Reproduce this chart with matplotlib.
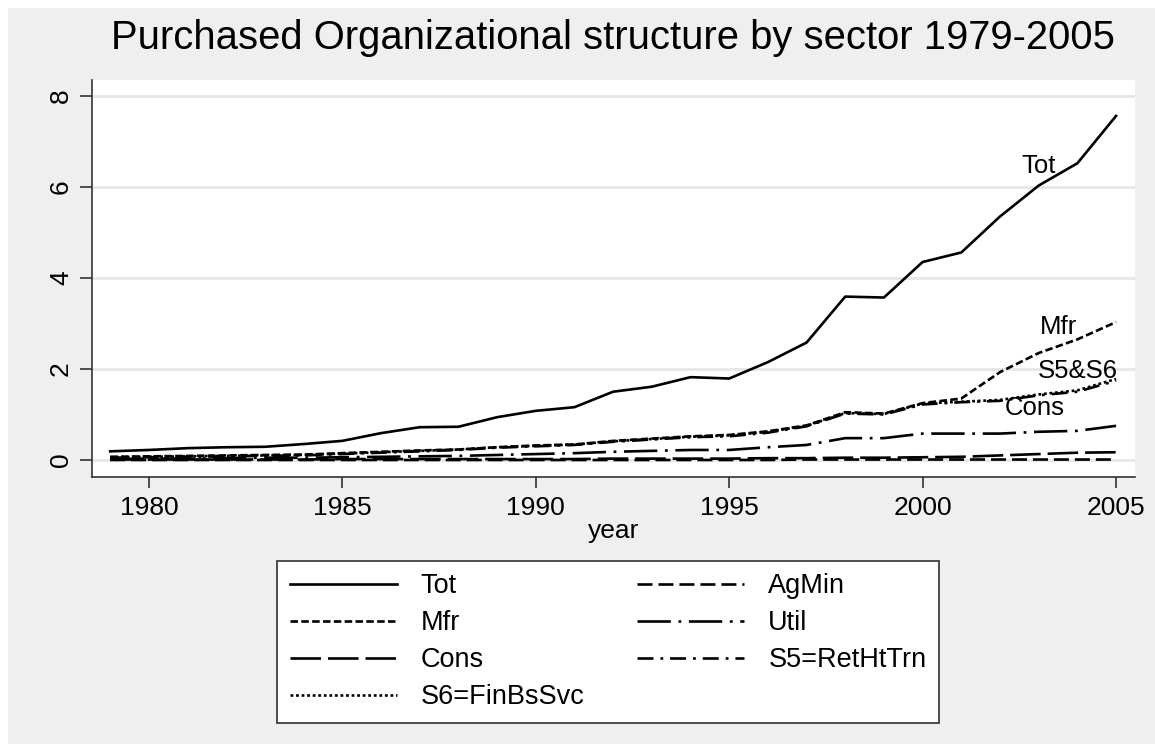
import matplotlib
matplotlib.use("Agg")
import matplotlib.pyplot as plt
from matplotlib.patches import Rectangle

plt.rcParams['font.family'] = ['Liberation Sans', 'DejaVu Sans']
plt.rcParams['lines.scale_dashes'] = False

# Data
years = list(range(1979, 2006))
tot = [0.19, 0.22, 0.26, 0.28, 0.29, 0.35, 0.42, 0.59, 0.72, 0.73, 0.94, 1.08, 1.16,
       1.50, 1.61, 1.82, 1.79, 2.15, 2.58, 3.59, 3.57, 4.35, 4.56, 5.35, 6.03, 6.52, 7.56]
mfr = [0.07, 0.08, 0.09, 0.10, 0.11, 0.12, 0.15, 0.18, 0.21, 0.23, 0.28, 0.32, 0.34,
       0.42, 0.47, 0.52, 0.55, 0.63, 0.76, 1.05, 1.02, 1.25, 1.35, 1.93, 2.35, 2.65, 3.03]
s5 = [0.05, 0.06, 0.07, 0.08, 0.09, 0.10, 0.13, 0.16, 0.19, 0.22, 0.27, 0.30, 0.33,
      0.40, 0.45, 0.50, 0.52, 0.60, 0.74, 1.02, 1.00, 1.22, 1.27, 1.30, 1.42, 1.50, 1.74]
s6 = [0.06, 0.07, 0.08, 0.09, 0.10, 0.11, 0.14, 0.17, 0.20, 0.23, 0.28, 0.31, 0.34,
      0.41, 0.46, 0.51, 0.54, 0.62, 0.75, 1.03, 1.01, 1.24, 1.28, 1.32, 1.44, 1.53, 1.78]
util = [0.02, 0.03, 0.03, 0.04, 0.05, 0.05, 0.06, 0.07, 0.08, 0.09, 0.11, 0.13, 0.15,
        0.18, 0.20, 0.22, 0.22, 0.28, 0.33, 0.48, 0.48, 0.58, 0.58, 0.58, 0.62, 0.64, 0.75]
cons = [0.01, 0.01, 0.01, 0.01, 0.01, 0.01, 0.02, 0.02, 0.02, 0.02, 0.02, 0.02, 0.02,
        0.03, 0.03, 0.03, 0.03, 0.04, 0.04, 0.05, 0.05, 0.06, 0.07, 0.10, 0.13, 0.16, 0.17]
agmin = [0.00, 0.00, 0.00, 0.00, 0.00, 0.00, 0.00, 0.00, 0.00, 0.00, 0.00, 0.00, 0.00,
         0.00, 0.00, 0.00, 0.00, 0.00, 0.01, 0.01, 0.01, 0.01, 0.01, 0.01, 0.01, 0.01, 0.01]

# end-of-line labels (year, value)
end_labels = [("Tot", 2003.0, 6.46), ("Mfr", 2003.5, 2.92),
              ("S5&S6", 2004.0, 1.96), ("Cons", 2002.9, 1.14)]

W, H = 1155, 744
fig = plt.figure(figsize=(W / 100, H / 100), dpi=100, facecolor='white')
fig.patches.append(Rectangle((8 / W, 0), 1, 1 - 8 / H, transform=fig.transFigure,
                             facecolor='#efefef', edgecolor='none', zorder=-10))

ax = fig.add_axes([92 / W, 1 - 477 / H, (1135 - 92) / W, (477 - 80) / H])
ax.set_facecolor('white')

lw = 1.9
styles = {
    'Tot': dict(ls='-'),
    'AgMin': dict(ls=(0, (10.8, 4.3))),
    'Mfr': dict(ls=(0, (5.4, 2.4))),
    'Util': dict(ls=(0, (24, 5.5, 2, 5.5))),
    'Cons': dict(ls=(0, (22, 5))),
    'S5=RetHtTrn': dict(ls=(0, (11.5, 5, 2, 5))),
    'S6=FinBsSvc': dict(ls=(0, (2, 2))),
}
series = {'Tot': tot, 'AgMin': agmin, 'Mfr': mfr, 'Util': util, 'Cons': cons,
          'S5=RetHtTrn': s5, 'S6=FinBsSvc': s6}

handles = {}
for name, vals in series.items():
    h, = ax.plot(years, vals, color='black', lw=lw, **styles[name])
    handles[name] = h

for txt, x, y in end_labels:
    ax.text(x, y, txt, fontsize=18.5, ha='center', va='center')

ax.set_xlim(1978.53, 2005.49)
ax.set_ylim(-0.374, 8.35)
ax.set_xticks([1980, 1985, 1990, 1995, 2000, 2005])
ax.set_yticks([0, 2, 4, 6, 8])
ax.tick_params(axis='x', labelsize=19, length=8, width=1.2, color='#333333', pad=6)
ax.tick_params(axis='y', labelsize=19, length=8.6, width=1.2, color='#333333', pad=5)
for lab in ax.get_yticklabels():
    lab.set_rotation(90)
    lab.set_va('center')
ax.grid(axis='y', color='#e6e6e6', lw=2)
ax.set_axisbelow(True)
for s in ['top', 'right']:
    ax.spines[s].set_visible(False)
for s in ['left', 'bottom']:
    ax.spines[s].set_color('#333333')
    ax.spines[s].set_linewidth(1.2)

ax.set_xlabel('year', fontsize=19, labelpad=-1)
fig.text(613 / W, 1 - 38 / H, 'Purchased Organizational structure by sector 1979-2005',
         fontsize=28.8, ha='center', va='center')

order = ['Tot', 'Mfr', 'Cons', 'S6=FinBsSvc', 'AgMin', 'Util', 'S5=RetHtTrn']
leg = fig.legend([handles[k] for k in order], order, ncol=2, loc='upper center',
                 bbox_to_anchor=(608 / W, 1 - 561 / H), fontsize=19.5,
                 frameon=True, fancybox=False, edgecolor='#404040', facecolor='white',
                 framealpha=1, handlelength=3.95, handletextpad=0.89, columnspacing=1.95,
                 labelspacing=0.41, borderpad=0.45, borderaxespad=0)
leg.get_frame().set_linewidth(1.3)

fig.savefig('out.png', dpi=100, facecolor=fig.get_facecolor())
